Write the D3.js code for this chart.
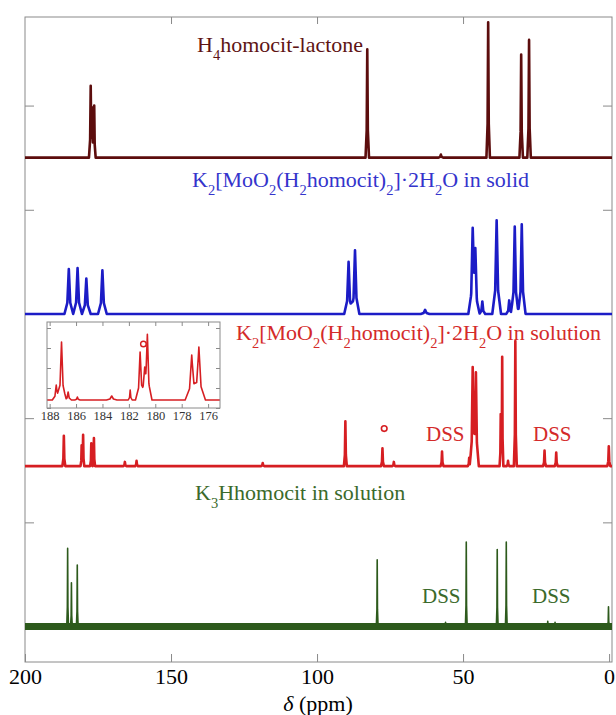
<!DOCTYPE html>
<meta charset="utf-8">
<style>
    body { margin: 0; background: #fff; }
    text { font-family: "Liberation Serif", "Times New Roman", serif; }
    .frame { fill: none; stroke: #8a8a8a; stroke-width: 1; }
    .axis line { stroke: #8a8a8a; }
    .axis path { display: none; }
    .axis text { font-family: "Liberation Serif", serif; }
    .trace { fill: none; stroke-linejoin: round; }
</style>
<svg width="616" height="715"></svg>
<script src="https://d3js.org/d3.v7.min.js"></script>
<script>

    // axis ticks
    var ppmTicks = [200, 150, 100, 50, 0];
    var levelTicks = [0, 100, 200, 300, 400, 500];
    var insetTicks = [188, 186, 184, 182, 180, 178, 176];
    var insetLevels = [0, 1, 2, 3, 4];

    // peaks: [ppm, height, half width at base (ppm)]
    var lactoneBase = 450;
    var lactonePeaks = [[177.5, 69, 0.6], [176.9, 48, 0.5], [176.3, 50, 0.5], [82.8, 104, 0.6],
        [57.6, 3, 0.8], [41.4, 130, 0.6], [30.1, 99, 0.6], [27.4, 113, 0.6]];

    var solidBase = 300;
    var solidPeaks = [[185.0, 43, 1.5], [182.0, 44, 1.5], [179.0, 34, 1.5], [173.5, 42, 1.5],
        [89.2, 50, 1.5], [87.0, 61, 1.5], [63.0, 4, 1.5], [46.7, 75, 1.5], [45.8, 52, 1.5],
        [43.4, 12, 1.0], [38.5, 90, 1.5], [34.2, 13, 1.0], [32.3, 84, 1.3], [29.9, 86, 1.3]];

    var solutionBase = 154;
    var solutionPeaks = [[186.7, 29, 0.5], [180.6, 20, 0.4], [180.1, 30, 0.4], [177.3, 22, 0.4],
        [176.4, 27, 0.4], [165.8, 4, 0.5], [161.8, 5, 0.5], [118.6, 3, 0.5], [90.3, 43, 0.5],
        [77.6, 17, 0.5], [73.7, 4, 0.5], [57.2, 14, 0.5], [47.9, 8, 0.5], [46.7, 95, 1.0],
        [45.6, 90, 1.0], [37.1, 50, 0.4], [36.6, 105, 0.4], [34.6, 5, 0.5], [32.1, 120, 0.5],
        [22.1, 15, 0.5], [18.1, 13, 0.5], [0.1, 19, 0.5]];

    var acidBase = 0;
    var acidPeaks = [[185.4, 75, 0.3], [184.1, 42, 0.3], [182.1, 59, 0.3], [79.4, 64, 0.3],
        [56.0, 4, 0.3], [48.9, 81, 0.3], [38.3, 74, 0.3], [35.2, 81, 0.3], [21.0, 5, 0.3],
        [18.5, 4, 0.3], [0.2, 19, 0.3]];

    // inset: solution spectrum, carboxyl region
    var insetBase = 0.4;
    var insetPeaks = [[187.5, 0.75, 0.3], [187.1, 2.9, 0.35], [186.6, 0.4, 0.25], [185.9, 0.15, 0.2],
        [183.3, 0.2, 0.4], [181.9, 0.5, 0.15], [181.15, 2.4, 0.35], [180.8, 1.15, 0.35],
        [180.6, 3.1, 0.35], [177.24, 2.25, 0.5], [176.7, 2.65, 0.5]];

    // unassigned peak markers: [ppm, level]
    var circleMain = [[77.0, 190]];
    var circleInset = [[180.9, 3.2]];

    // labels: [text, subscript?]
    var lactoneLabel = [["H", 0], ["4", 1], ["homocit-lactone", 0]];
    var solidLabel = [["K", 0], ["2", 1], ["[MoO", 0], ["2", 1], ["(H", 0], ["2", 1], ["homocit)", 0],
        ["2", 1], ["]·2H", 0], ["2", 1], ["O in solid", 0]];
    var solutionLabel = [["K", 0], ["2", 1], ["[MoO", 0], ["2", 1], ["(H", 0], ["2", 1], ["homocit)", 0],
        ["2", 1], ["]·2H", 0], ["2", 1], ["O in solution", 0]];
    var acidLabel = [["K", 0], ["3", 1], ["Hhomocit in solution", 0]];

    var svg = d3.select("svg");

    var plotLeft = 25, plotRight = 612, plotTop = 17, plotBottom = 662;

    var x = d3.scaleLinear().domain([200, -1]).range([plotLeft, plotRight]);
    var y = d3.scaleLinear().domain([-34, 585]).range([plotBottom, plotTop]);

    function level(peaks, v) {
        return d3.sum(peaks, function(p) {
            var d = Math.abs(v - p[0]), w = p[2];
            if (d >= w) return 0;
            if (d <= w / 3) return p[1] * (1 - 0.75 * d / (w / 3));
            return p[1] * 0.25 * (w - d) / (w * 2 / 3);
        });
    }

    function tracePath(peaks, base, xs, ys) {
        var dom = xs.domain();
        var pts = [dom[0], dom[1]];
        peaks.forEach(function(p) {
            pts.push(p[0] - p[2], p[0] - p[2] / 3, p[0], p[0] + p[2] / 3, p[0] + p[2]);
        });
        pts = pts.filter(function(v) { return v <= dom[0] && v >= dom[1]; })
                .sort(function(a, b) { return b - a; });
        return d3.line()
                .x(function(v) { return xs(v); })
                .y(function(v) { return ys(base + level(peaks, v)); })(pts);
    }

    function label(parts, px, py, color, size) {
        var t = svg.append("text")
                .attr("x", px).attr("y", py)
                .attr("fill", color)
                .attr("font-size", size);
        var shift = 0;
        parts.forEach(function(p) {
            var target = p[1] ? 8 : 0;
            t.append("tspan")
                    .attr("dy", target - shift)
                    .attr("font-size", p[1] ? size * 0.66 : size)
                    .text(p[0]);
            shift = target;
        });
        return t;
    }

    // frame and axes
    svg.append("g").attr("class", "axis")
            .attr("transform", "translate(0," + plotBottom + ")")
            .call(d3.axisBottom(x).tickValues(ppmTicks).tickSize(-8).tickPadding(6))
            .call(function(g) {
                g.attr("font-family", null);
                g.selectAll("text").attr("fill", "#000").attr("font-size", 22);
            });
    svg.append("g").attr("class", "axis")
            .attr("transform", "translate(0," + plotTop + ")")
            .call(d3.axisTop(x).tickValues([150, 100, 50]).tickSize(-7).tickFormat(""));
    svg.append("g").attr("class", "axis")
            .attr("transform", "translate(" + plotLeft + ",0)")
            .call(d3.axisLeft(y).tickValues(levelTicks).tickSize(-9).tickFormat(""));
    svg.append("g").attr("class", "axis")
            .attr("transform", "translate(" + plotRight + ",0)")
            .call(d3.axisRight(y).tickValues(levelTicks).tickSize(-9).tickFormat(""));

    svg.append("rect").attr("class", "frame")
            .attr("x", plotLeft).attr("y", plotTop)
            .attr("width", plotRight - plotLeft).attr("height", plotBottom - plotTop);

    var axisLabel = svg.append("text")
            .attr("x", 318).attr("y", 711)
            .attr("text-anchor", "middle")
            .attr("font-size", 22);
    axisLabel.append("tspan").attr("font-style", "italic").text("δ");
    axisLabel.append("tspan").text(" (ppm)");

    // spectra
    svg.append("path").attr("class", "trace")
            .attr("d", d3.line()([[x(200), y(acidBase)], [x(-1), y(acidBase)]]))
            .attr("stroke", "#2d5a1c").attr("stroke-width", 7);
    svg.append("path").attr("class", "trace")
            .attr("d", tracePath(acidPeaks, acidBase, x, y))
            .attr("stroke", "#2d5a1c").attr("stroke-width", 1.6);

    svg.append("path").attr("class", "trace")
            .attr("d", tracePath(solutionPeaks, solutionBase, x, y))
            .attr("stroke", "#d61e22").attr("stroke-width", 2.6);

    svg.append("path").attr("class", "trace")
            .attr("d", tracePath(solidPeaks, solidBase, x, y))
            .attr("stroke", "#1c1cc6").attr("stroke-width", 2.6);

    svg.append("path").attr("class", "trace")
            .attr("d", tracePath(lactonePeaks, lactoneBase, x, y))
            .attr("stroke", "#5c0d0d").attr("stroke-width", 2.6);

    svg.selectAll("circle.main").data(circleMain).enter().append("circle")
            .attr("cx", function(d) { return x(d[0]); })
            .attr("cy", function(d) { return y(d[1]); })
            .attr("r", 2.8)
            .attr("fill", "none").attr("stroke", "#d61e22").attr("stroke-width", 1.6);

    // labels
    label(lactoneLabel, 197, 52, "#5e1414", 22);
    label(solidLabel, 192, 187, "#3434cc", 22);
    label(solutionLabel, 236, 340, "#d42a2a", 22);
    label(acidLabel, 195, 500, "#3b6a2b", 22);

    svg.append("text").attr("x", 426).attr("y", 441).attr("fill", "#d42a2a").attr("font-size", 21).text("DSS");
    svg.append("text").attr("x", 533).attr("y", 441).attr("fill", "#d42a2a").attr("font-size", 21).text("DSS");
    svg.append("text").attr("x", 422).attr("y", 603).attr("fill", "#3b6a2b").attr("font-size", 21).text("DSS");
    svg.append("text").attr("x", 532).attr("y", 603).attr("fill", "#3b6a2b").attr("font-size", 21).text("DSS");

    // inset
    var ix = d3.scaleLinear().domain([188.2, 175.1]).range([47, 220]);
    var iy = d3.scaleLinear().domain([0, 4.3]).range([408, 322]);

    var inset = svg.append("g");
    inset.append("rect")
            .attr("x", 47).attr("y", 322).attr("width", 173).attr("height", 86)
            .attr("fill", "#fff");
    inset.append("clipPath").attr("id", "insetClip")
            .append("rect").attr("x", 47).attr("y", 322).attr("width", 173).attr("height", 86);

    inset.append("g").attr("class", "axis")
            .attr("transform", "translate(0,408)")
            .call(d3.axisBottom(ix).tickValues(insetTicks).tickSize(-4).tickPadding(3))
            .call(function(g) {
                g.attr("font-family", null);
                g.selectAll("text").attr("fill", "#333").attr("font-size", 12.5);
            });
    inset.append("g").attr("class", "axis")
            .attr("transform", "translate(0,322)")
            .call(d3.axisTop(ix).tickValues(insetTicks).tickSize(-4).tickFormat(""));
    inset.append("g").attr("class", "axis")
            .attr("transform", "translate(47,0)")
            .call(d3.axisLeft(iy).tickValues(insetLevels).tickSize(-4).tickFormat(""));
    inset.append("g").attr("class", "axis")
            .attr("transform", "translate(220,0)")
            .call(d3.axisRight(iy).tickValues(insetLevels).tickSize(-4).tickFormat(""));

    inset.append("path").attr("class", "trace")
            .attr("clip-path", "url(#insetClip)")
            .attr("d", tracePath(insetPeaks, insetBase, ix, iy))
            .attr("stroke", "#d61e22").attr("stroke-width", 1.6);

    inset.selectAll("circle").data(circleInset).enter().append("circle")
            .attr("cx", function(d) { return ix(d[0]); })
            .attr("cy", function(d) { return iy(d[1]); })
            .attr("r", 2.8)
            .attr("fill", "none").attr("stroke", "#d61e22").attr("stroke-width", 1.4);

    inset.append("rect").attr("class", "frame")
            .attr("x", 47).attr("y", 322).attr("width", 173).attr("height", 86);

</script>
